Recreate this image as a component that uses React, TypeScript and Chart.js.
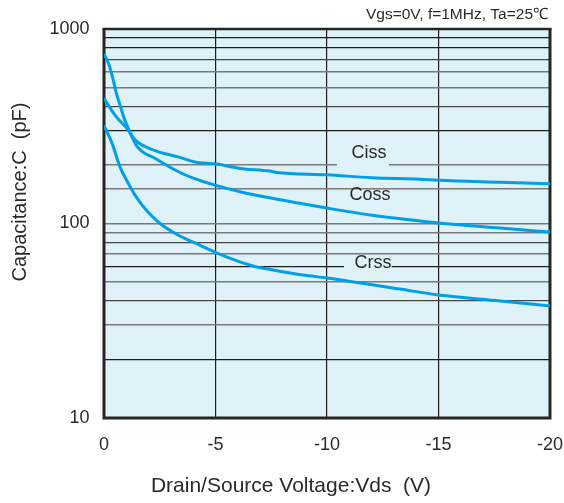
import React, { useEffect, useRef } from 'react';
import { Chart, registerables } from 'chart.js';

Chart.register(...registerables);

// ---- data ----
const seriesNames = ['Ciss', 'Coss', 'Crss'];

const cissVds = [0, -0.49, -1.08, -1.39, -2.29, -3.32, -4.08, -5.05, -6.1, -7.44, -7.74, -10, -12, -14.17, -15, -17.76, -20];
const cissPf = [440, 361, 303, 269, 237, 220, 207, 202, 192, 186, 183, 178, 172, 169, 167, 163, 160];

const cossVds = [0, -0.18, -0.36, -0.54, -0.72, -0.9, -1.08, -1.47, -2.36, -3.32, -4.0, -5.05, -6.1, -7.3, -8.79, -10, -11.93, -14.17, -15, -17.76, -20];
const cossPf = [744, 676, 580, 474, 406, 349, 310, 250, 214, 185, 171, 156.5, 145.7, 136.4, 127, 120, 110.6, 103, 100.6, 94.8, 90.4];

const crssVds = [0, -0.36, -0.72, -1.08, -1.48, -1.97, -2.6, -3.32, -4.08, -5.07, -6.68, -7.58, -8.92, -10, -13.27, -15, -17.76, -20];
const crssPf = [319, 259, 195, 161.5, 135, 114.6, 98.2, 87.3, 79.4, 70.5, 60.5, 57.7, 54.3, 52.5, 46, 42.9, 40, 37.7];

const yLabelTicks = [10, 100, 1000];
const headerText = 'Vgs=0V, f=1MHz, Ta=25\u2103';
const xTitleText = 'Drain/Source Voltage:Vds  (V)';
const yTitleText = 'Capacitance:C  (pF)';

// ---- styling ----
const FONT = '"Liberation Sans", Arial, Helvetica, sans-serif';
const BLUE = '#00A0E9';
const BG = '#DFF1F9';
const INK = '#2a2a2a';

const darkLines = [20, 60, 300, 800, 900];
const midLines = [40, 80, 400, 700];

function gridColorFor(v: number): string {
  const r = Math.round(v);
  if (darkLines.includes(r)) return '#1e1e1e';
  if (midLines.includes(r)) return '#474747';
  return '#7a7a7a';
}
function gridWidthFor(v: number): number {
  const r = Math.round(v);
  if (darkLines.includes(r) || midLines.includes(r)) return 1.2;
  return 1.6;
}

const decorPlugin = {
  id: 'decor',
  beforeDraw(chart: any) {
    const { ctx, chartArea: a } = chart;
    ctx.save();
    ctx.fillStyle = BG;
    ctx.fillRect(a.left, a.top, a.right - a.left, a.bottom - a.top);
    ctx.restore();
  },
  beforeDatasetsDraw(chart: any) {
    const { ctx, chartArea: a } = chart;
    const xs = chart.scales.x;
    const ys = chart.scales.y;
    ctx.save();
    // frame
    ctx.strokeStyle = '#262626';
    ctx.lineWidth = 3;
    ctx.beginPath();
    ctx.moveTo(a.left, a.top);
    ctx.lineTo(a.left, a.bottom);
    ctx.lineTo(a.right, a.bottom);
    ctx.lineTo(a.right, a.top);
    ctx.stroke();
    ctx.lineWidth = 2.5;
    ctx.beginPath();
    ctx.moveTo(a.left - 1.5, a.top);
    ctx.lineTo(a.right + 1.5, a.top);
    ctx.stroke();

    // curve labels with gaps in the grid lines
    const labels = [
      { text: seriesNames[0], x: -11.88, y: 230, gap: [-10.45, -12.78], gapY: 200 },
      { text: seriesNames[1], x: -11.93, y: 140 },
      { text: seriesNames[2], x: -12.06, y: 62.7, gap: [-10.76, -12.9], gapY: 60 },
    ];
    for (const l of labels) {
      if (l.gap) {
        const x1 = xs.getPixelForValue(l.gap[0]);
        const x2 = xs.getPixelForValue(l.gap[1]);
        const gy = ys.getPixelForValue(l.gapY);
        ctx.fillStyle = BG;
        ctx.fillRect(x1, gy - 2, x2 - x1, 4);
      }
      ctx.fillStyle = INK;
      ctx.font = `18px ${FONT}`;
      ctx.textAlign = 'center';
      ctx.textBaseline = 'middle';
      ctx.fillText(l.text, xs.getPixelForValue(l.x), ys.getPixelForValue(l.y));
    }
    ctx.restore();
  },
  afterDraw(chart: any) {
    const { ctx, chartArea: a } = chart;
    ctx.save();
    ctx.fillStyle = INK;
    // header
    ctx.font = `15.5px ${FONT}`;
    ctx.textAlign = 'right';
    ctx.textBaseline = 'middle';
    ctx.fillText(headerText, a.right - 2, 15);
    // x title
    ctx.font = `21px ${FONT}`;
    ctx.textAlign = 'center';
    ctx.fillText(xTitleText, 291, 486);
    // y title
    ctx.font = `20px ${FONT}`;
    ctx.translate(20, 192);
    ctx.rotate(-Math.PI / 2);
    ctx.fillText(yTitleText, 0, 0);
    ctx.restore();
  },
};

function toPoints(xs: number[], ys: number[]) {
  return xs.map((x, i) => ({ x, y: ys[i] }));
}

export default function App() {
  const ref = useRef<HTMLCanvasElement | null>(null);

  useEffect(() => {
    if (!ref.current) return;
    const mk = (label: string, xs: number[], ys: number[]) => ({
      label,
      data: toPoints(xs, ys),
      borderColor: BLUE,
      backgroundColor: BLUE,
      borderWidth: 3,
      pointRadius: 0,
      cubicInterpolationMode: 'monotone' as const,
      fill: false,
    });
    const chart = new Chart(ref.current, {
      type: 'line',
      data: {
        datasets: [
          mk(seriesNames[0], cissVds, cissPf),
          mk(seriesNames[1], cossVds, cossPf),
          mk(seriesNames[2], crssVds, crssPf),
        ],
      },
      options: {
        responsive: false,
        animation: false,
        events: [],
        layout: { padding: { top: 29, right: 14, left: 0, bottom: 0 } },
        plugins: {
          legend: { display: false },
          title: { display: false },
          tooltip: { enabled: false },
        },
        scales: {
          x: {
            type: 'linear',
            min: -20,
            max: 0,
            reverse: true,
            border: { display: false },
            grid: { color: '#1e1e1e', lineWidth: 1.2, drawTicks: false },
            ticks: {
              stepSize: 5,
              padding: 16,
              color: INK,
              font: { family: FONT, size: 18 },
              callback: (v: any) => String(v),
            },
            afterFit: (s: any) => {
              s.height = 85;
              s.paddingLeft = 0;
              s.paddingRight = 0;
            },
          },
          y: {
            type: 'logarithmic',
            min: 10,
            max: 1000,
            border: { display: false },
            grid: {
              drawTicks: false,
              color: (c: any) => gridColorFor(c.tick ? c.tick.value : 0),
              lineWidth: (c: any) => gridWidthFor(c.tick ? c.tick.value : 0),
            },
            ticks: {
              autoSkip: false,
              padding: 14.5,
              color: INK,
              font: { family: FONT, size: 18 },
              callback: (v: any) => {
                const n = Number(v);
                return yLabelTicks.some((t) => Math.abs(t - n) < 1e-6) ? String(Math.round(n)) : '';
              },
            },
            afterFit: (s: any) => {
              s.width = 104;
              s.paddingTop = 0;
              s.paddingBottom = 0;
            },
          },
        },
      },
      plugins: [decorPlugin],
    } as any);
    return () => chart.destroy();
  }, []);

  return (
    <div style={{ position: 'fixed', left: 0, top: 0, width: 564, height: 503, background: '#fff' }}>
      <canvas ref={ref} width={564} height={503} style={{ display: 'block', width: 564, height: 503 }} />
    </div>
  );
}
